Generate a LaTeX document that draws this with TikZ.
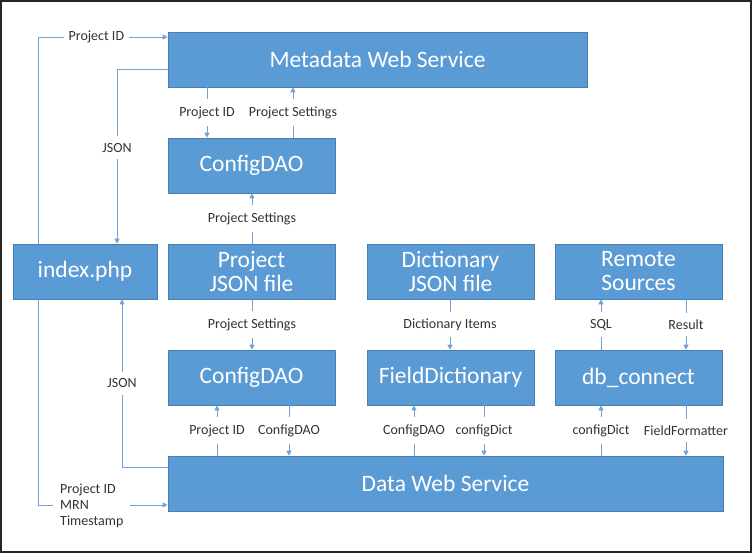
\documentclass[tikz,border=0pt]{standalone}
\usepackage{fontspec}
\setmainfont{Carlito}
\usetikzlibrary{arrows.meta}
\definecolor{boxblue}{HTML}{5B9BD5}
\definecolor{boxedge}{HTML}{4A7DB0}
\definecolor{linkblue}{HTML}{6FA3D8}
\definecolor{labelgray}{HTML}{333333}
\tikzset{
  box/.style={draw=boxedge, line width=0.6pt, fill=boxblue, text=white, font=\fontsize{23.5}{27}\selectfont, minimum height=55pt, inner sep=0pt, align=center},
  link/.style={draw=linkblue, line width=0.9pt, -{Triangle[length=5pt,width=5pt]}},
  lbl/.style={fill=white, text=labelgray, font=\fontsize{14}{16}\selectfont, inner xsep=2pt, inner ysep=7pt},
}
\begin{document}
\begin{tikzpicture}[x=1pt,y=-1pt]
\useasboundingbox (0,0) rectangle (752,553);
\draw[line width=1.6pt, draw=black!85] (1,1) rectangle (751,552);

% boxes
\node[box, minimum width=419pt] (meta) at (377.5,59.5) {Metadata Web Service};
\node[box, minimum width=167pt] (cfgtop) at (251.5,165.5) {ConfigDAO};
\node[box, minimum width=144pt] (index) at (85,271.5) {index.php};
\node[box, minimum width=167pt] (projjson) at (251.5,271.5) {Project\\[-3pt]JSON file};
\node[box, minimum width=167pt] (dictjson) at (450.5,271.5) {Dictionary\\[-3pt]JSON file};
\node[box, minimum width=167pt] (remote) at (638.5,271.5) {Remote\\[-3pt]Sources};
\node[box, minimum width=167pt] (cfgbot) at (251.5,377.5) {ConfigDAO};
\node[box, minimum width=167pt] (fielddict) at (450.5,377.5) {FieldDictionary};
\node[box, minimum width=167pt] (dbc) at (638.5,377.5) {db\_connect};
\node[box, minimum width=555pt] (data) at (445.5,483.5) {Data Web Service};

% helper coordinates
\coordinate (xa) at (207,0);
\coordinate (xb) at (293,0);
\coordinate (xc) at (252,0);
\coordinate (xd) at (450,0);
\coordinate (xe) at (601,0);
\coordinate (xf) at (686,0);
\coordinate (xg) at (217,0);
\coordinate (xh) at (289,0);
\coordinate (xi) at (414,0);
\coordinate (xj) at (484,0);
\coordinate (yk) at (0,37);
\coordinate (yl) at (0,69);
\coordinate (ym) at (0,467);
\coordinate (yn) at (0,505);
\coordinate (cxl) at (38,37);
\coordinate (cxr) at (117,69);
\coordinate (cbl) at (122,467);
\coordinate (cbb) at (38,505);

% left loop connectors
\draw[link] (index.north -| cxl) -- (cxl) -- node[lbl, pos=0.45, inner xsep=5pt]{Project ID} (meta.west |- yk);
\draw[link] (meta.west |- yl) -- (cxr) -- node[lbl, pos=0.45]{JSON} (index.north -| cxr);
\draw[link] (data.west |- ym) -- (cbl) -- node[lbl, pos=0.5]{JSON} (index.south -| cbl);
\draw[link] (index.south -| cbb) -- (cbb) -- (data.west |- yn);
\node[lbl, align=left, anchor=west, inner xsep=7pt, inner ysep=2pt] (pmt) at (53,506) {Project ID\\MRN\\Timestamp};

% vertical connectors
\draw[link] (meta.south -| xa) -- node[lbl]{Project ID} (cfgtop.north -| xa);
\draw[link] (cfgtop.north -| xb) -- node[lbl]{Project Settings} (meta.south -| xb);
\draw[link] (projjson.north -| xc) -- node[lbl]{Project Settings} (cfgtop.south -| xc);
\draw[link] (projjson.south -| xc) -- node[lbl]{Project Settings} (cfgbot.north -| xc);
\draw[link] (dictjson.south -| xd) -- node[lbl]{Dictionary Items} (fielddict.north -| xd);
\draw[link] (dbc.north -| xe) -- node[lbl]{SQL} (remote.south -| xe);
\draw[link] (remote.south -| xf) -- node[lbl]{Result} (dbc.north -| xf);
\draw[link] (data.north -| xg) -- node[lbl]{Project ID} (cfgbot.south -| xg);
\draw[link] (cfgbot.south -| xh) -- node[lbl]{ConfigDAO} (data.north -| xh);
\draw[link] (data.north -| xi) -- node[lbl]{ConfigDAO} (fielddict.south -| xi);
\draw[link] (fielddict.south -| xj) -- node[lbl]{configDict} (data.north -| xj);
\draw[link] (data.north -| xe) -- node[lbl]{configDict} (dbc.south -| xe);
\draw[link] (dbc.south -| xf) -- node[lbl]{FieldFormatter} (data.north -| xf);
\end{tikzpicture}
\end{document}
